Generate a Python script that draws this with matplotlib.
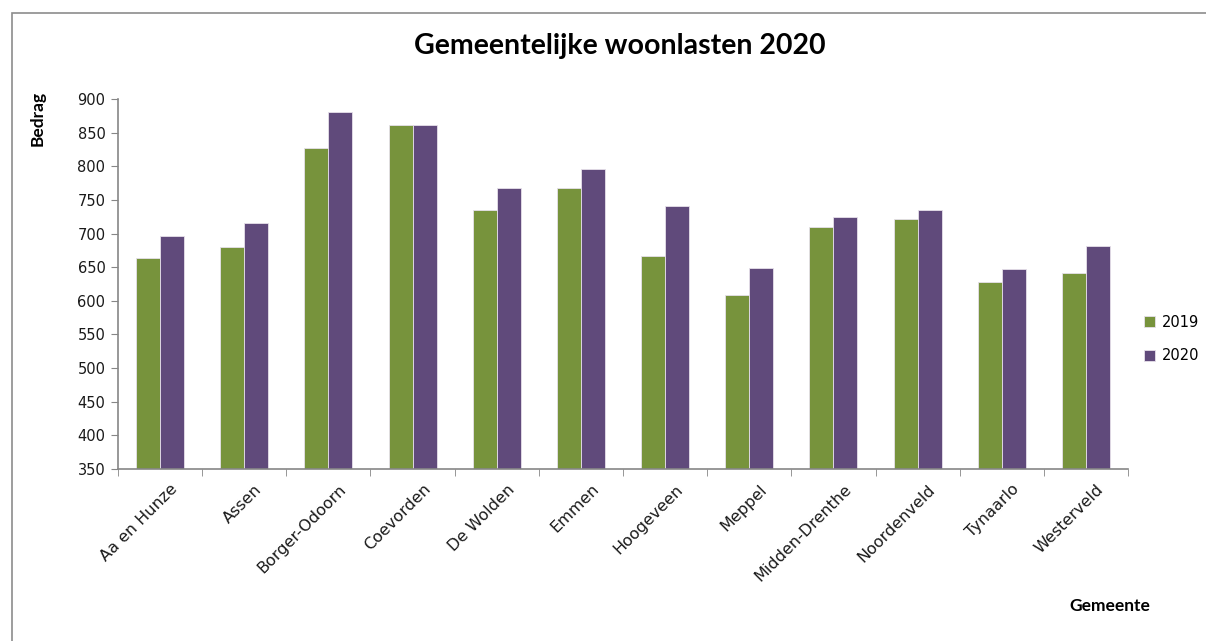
import numpy as np
import matplotlib
matplotlib.use('Agg')
import matplotlib.pyplot as plt
from matplotlib.patches import Rectangle

# data
gemeenten = ['Aa en Hunze', 'Assen', 'Borger-Odoorn', 'Coevorden', 'De Wolden', 'Emmen',
             'Hoogeveen', 'Meppel', 'Midden-Drenthe', 'Noordenveld', 'Tynaarlo', 'Westerveld']
woonlasten_2019 = [663, 680, 827, 862, 735, 768, 667, 608, 709, 722, 628, 641]
woonlasten_2020 = [696, 715, 881, 862, 768, 796, 741, 649, 724, 735, 647, 682]
jaren = ['2019', '2020']

groen = '#77933C'
paars = '#604A7B'
asgrijs = '#868686'

W, H = 1206, 641
fig = plt.figure(figsize=(W / 100, H / 100), dpi=100)
ax = fig.add_axes([118 / W, 1 - 469 / H, (1128 - 118) / W, (469 - 99) / H])

# chart border like the Excel chart area
fig.patches.append(Rectangle((12 / W, -0.05), 1.1, 1 - 13 / H + 0.05, transform=fig.transFigure,
                             fill=False, edgecolor='#8c8c8c', linewidth=1.2))

x = np.arange(len(gemeenten))
bw = 2 / 7
ax.bar(x - bw / 2, woonlasten_2019, bw, color=groen, edgecolor='#e6e0ea', linewidth=0.6, label=jaren[0])
ax.bar(x + bw / 2, woonlasten_2020, bw, color=paars, edgecolor='#e6e0ea', linewidth=0.6, label=jaren[1])

ax.set_xlim(-0.5, len(gemeenten) - 0.5)
ax.set_ylim(350, 900)
ax.set_yticks(np.arange(350, 901, 50))

for s in ['top', 'right']:
    ax.spines[s].set_visible(False)
for s in ['left', 'bottom']:
    ax.spines[s].set_color(asgrijs)
    ax.spines[s].set_linewidth(1.2)

ax.tick_params(axis='y', length=5, color=asgrijs, labelsize=10.5, pad=4, labelcolor='#1a1a1a')
ax.set_xticks(x + 0.12)
ax.set_xticks(np.arange(-0.5, len(gemeenten)), minor=True)
ax.tick_params(axis='x', which='major', length=0, pad=9)
ax.tick_params(axis='x', which='minor', length=5, color=asgrijs)
ax.set_xticklabels(gemeenten, rotation=45, ha='right', va='top', rotation_mode='anchor',
                   fontsize=11.5, color='#1a1a1a')

fig.text(620 / W, 1 - 46 / H, 'Gemeentelijke woonlasten 2020', ha='center', va='center',
         fontsize=20.5, fontweight='bold', family='Lato')
fig.text(38 / W, 1 - 118 / H, 'Bedrag', rotation=90, ha='center', va='center',
         fontsize=12.5, fontweight='bold', family='Lato')
fig.text(1110 / W, 1 - 606 / H, 'Gemeente', ha='center', va='center',
         fontsize=12.5, fontweight='bold', family='Lato')

ax.legend(loc='center left', bbox_to_anchor=(1131 / W, 1 - 339 / H), bbox_transform=fig.transFigure,
          frameon=False, fontsize=10.5, handlelength=0.75, handleheight=0.75, handletextpad=0.5,
          labelspacing=1.3)

fig.savefig('out.png', dpi=100, facecolor='white')
